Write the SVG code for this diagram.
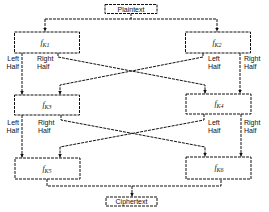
<svg xmlns="http://www.w3.org/2000/svg" width="269" height="212" viewBox="0 0 269 212">
<style>
.box{fill:#fff;stroke:#111;stroke-width:1;stroke-dasharray:3 1}
.ln{fill:none;stroke:#111;stroke-width:1;stroke-dasharray:3 1}
.t{font-family:"Liberation Sans",Arial,sans-serif;font-size:7px;fill:#111}
.lb{font-family:"Liberation Serif","Times New Roman",serif;font-style:italic;font-size:8px;fill:#111;text-anchor:middle}
.c{text-anchor:middle}
.e{text-anchor:end}
</style>
<defs>
<marker id="ah" viewBox="0 0 6 6" refX="3" refY="6" markerWidth="4" markerHeight="4" orient="auto-start-reverse" markerUnits="userSpaceOnUse">
<path d="M0,0 L6,0 L3,6 Z" fill="#111"/>
</marker>
<marker id="ad" viewBox="0 0 6 6" refX="6" refY="3" markerWidth="4" markerHeight="4" orient="auto" markerUnits="userSpaceOnUse">
<path d="M0,0 L6,3 L0,6 Z" fill="#111"/>
</marker>
</defs>
<g id="connectors">
<path class="ln" d="M131,13 V19 M45,19 H217" />
<path class="ln" d="M45,19 V31.5" marker-end="url(#ad)"/>
<path class="ln" d="M217,19 V31.5" marker-end="url(#ad)"/>
<path class="ln" d="M22,53 V94.5" marker-end="url(#ad)"/>
<path class="ln" d="M58,53 V57 L205,85 V93.5" marker-end="url(#ad)"/>
<path class="ln" d="M203,53 V57 L60,85 V94.5" marker-end="url(#ad)"/>
<path class="ln" d="M240,53 V93.5" marker-end="url(#ad)"/>
<path class="ln" d="M22,115 V157.5" marker-end="url(#ad)"/>
<path class="ln" d="M61,115 V120 L205,147 V156.5" marker-end="url(#ad)"/>
<path class="ln" d="M204,114 V120 L60,147 V157.5" marker-end="url(#ad)"/>
<path class="ln" d="M241,114 V156.5" marker-end="url(#ad)"/>
<path class="ln" d="M47,179 V186 H221 V179"/>
<path class="ln" d="M132,186 V196.5" marker-end="url(#ad)"/>
</g>
<g id="plaintext">
<rect class="box" x="105" y="4.5" width="52" height="9"/>
<text class="t c" x="131" y="11.5">Plaintext</text>
</g>
<g id="f1">
<rect class="box" x="14.5" y="32" width="65" height="21"/>
<text class="lb" x="45" y="45">f<tspan font-size="6" dy="2">K1</tspan></text>
</g>
<g id="f2">
<rect class="box" x="185.5" y="32" width="65" height="21"/>
<text class="lb" x="217" y="45">f<tspan font-size="6" dy="2">K2</tspan></text>
</g>
<g id="f3">
<rect class="box" x="14.5" y="95" width="65" height="20"/>
<text class="lb" x="47" y="107">f<tspan font-size="6" dy="2">K3</tspan></text>
</g>
<g id="f4">
<rect class="box" x="186" y="94" width="65" height="20"/>
<text class="lb" x="219" y="106">f<tspan font-size="6" dy="2">K4</tspan></text>
</g>
<g id="f5">
<rect class="box" x="15" y="158" width="65" height="21"/>
<text class="lb" x="47" y="171">f<tspan font-size="6" dy="2">K5</tspan></text>
</g>
<g id="f6">
<rect class="box" x="186" y="157" width="65" height="22"/>
<text class="lb" x="219" y="170">f<tspan font-size="6" dy="2">K6</tspan></text>
</g>
<g id="ciphertext">
<rect class="box" x="106" y="197" width="51" height="9"/>
<text class="t c" x="131.5" y="204">Ciphertext</text>
</g>
<g id="labels">
<text class="t e" x="19" y="61">Left</text><text class="t e" x="19" y="69">Half</text>
<text class="t" x="37" y="61">Right</text><text class="t" x="37" y="69">Half</text>
<text class="t" x="208" y="61">Left</text><text class="t" x="208" y="69">Half</text>
<text class="t" x="244" y="61">Right</text><text class="t" x="244" y="69">Half</text>
<text class="t e" x="19" y="125">Left</text><text class="t e" x="19" y="133">Half</text>
<text class="t" x="38" y="125">Right</text><text class="t" x="38" y="133">Half</text>
<text class="t" x="208" y="125">Left</text><text class="t" x="208" y="133">Half</text>
<text class="t" x="244" y="125">Right</text><text class="t" x="244" y="133">Half</text>
</g>
</svg>
